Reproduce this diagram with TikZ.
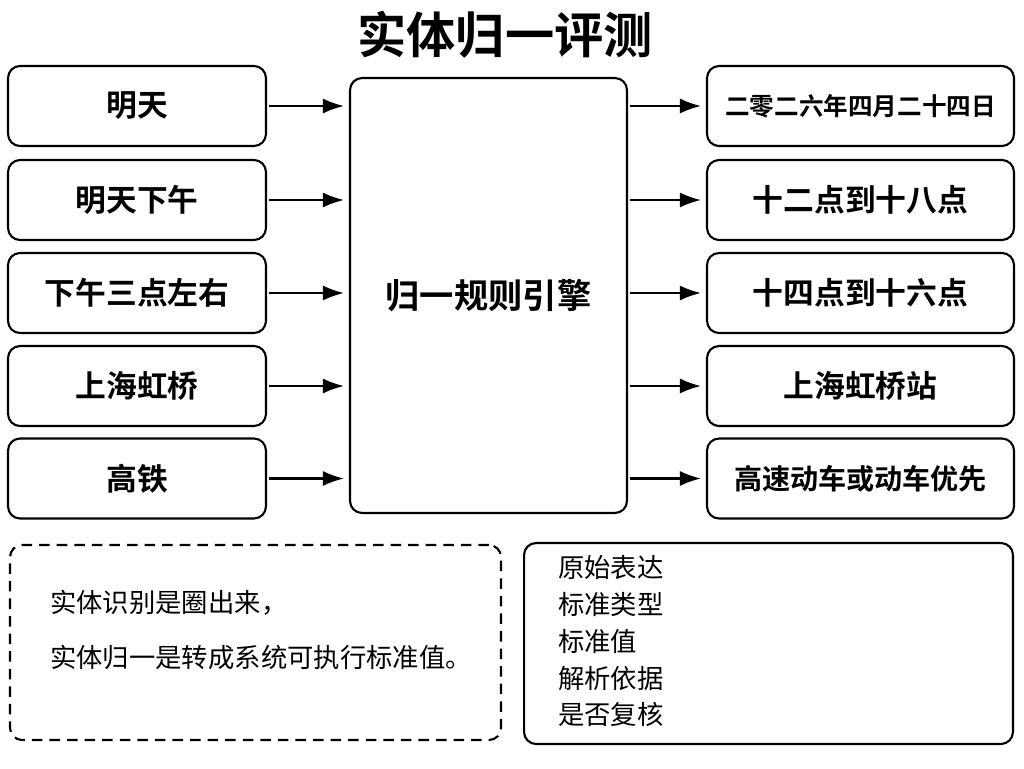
\documentclass[tikz,border=0pt]{standalone}
\usepackage{fontspec}
\setmainfont{Noto Sans CJK SC}[BoldFont={Noto Sans CJK SC Bold}]
\usetikzlibrary{positioning,arrows.meta}
\begin{document}
\begin{tikzpicture}[x=0.02cm,y=-0.02cm]
\tikzstyle{box}=[rectangle,draw,line width=1.2pt,rounded corners=0.24cm,font=\fontsize{17.5}{20}\selectfont\bfseries]
\tikzstyle{lbox}=[box,minimum width=5.16cm,minimum height=1.6cm]
\tikzstyle{rbox}=[box,minimum width=6.14cm,minimum height=1.6cm]
\tikzstyle{arr}=[-{Latex[length=0.42cm,width=0.3cm]},line width=1.2pt,shorten >=0.1cm,shorten <=0.04cm]
\useasboundingbox (0,0) rectangle (1024,768);
% title
\node (title) at (505,35) {\fontsize{28}{32}\selectfont\bfseries 实体归一评测};
% core
\node [box,minimum width=5.54cm,minimum height=8.7cm] (core) at (488.5,295.5) {\fontsize{19.5}{22}\selectfont\bfseries 归一规则引擎};
% inputs
\node [lbox] (in1) at (137,106) {明天};
\node [lbox] (in2) at (137,200) {明天下午};
\node [lbox] (in3) at (137,293) {下午三点左右};
\node [lbox] (in4) at (137,386) {上海虹桥};
\node [lbox] (in5) at (137,478.5) {高铁};
% outputs
\node [rbox] (out1) at (860.5,106) {\fontsize{14}{16}\selectfont\bfseries 二零二六年四月二十四日};
\node [rbox] (out2) at (860.5,200) {十二点到十八点};
\node [rbox] (out3) at (860.5,293) {十四点到十六点};
\node [rbox] (out4) at (860.5,386) {上海虹桥站};
\node [rbox] (out5) at (860.5,478.5) {\fontsize{16}{18}\selectfont\bfseries 高速动车或动车优先};
\foreach \i in {1,...,5}{
  \draw [arr] (in\i.east) -- (in\i.east -| core.west);
  \draw [arr] (core.east |- out\i.west) -- (out\i.west);
}
% notes
\node [box,dash pattern=on 6pt off 4pt,minimum width=9.82cm,minimum height=3.9cm] (note) at (255.5,642.5) {};
\node [anchor=west,align=left,font=\fontsize{15}{31}\selectfont] (notetext) at (44,630) {实体识别是圈出来，\\实体归一是转成系统可执行标准值。};
\node [box,minimum width=9.78cm,minimum height=4.02cm] (fields) at (768.5,643.5) {};
\node [anchor=north west,align=left,font=\fontsize{15}{21}\selectfont] (fieldtext) at (552,549) {原始表达\\标准类型\\标准值\\解析依据\\是否复核};
\end{tikzpicture}
\end{document}
